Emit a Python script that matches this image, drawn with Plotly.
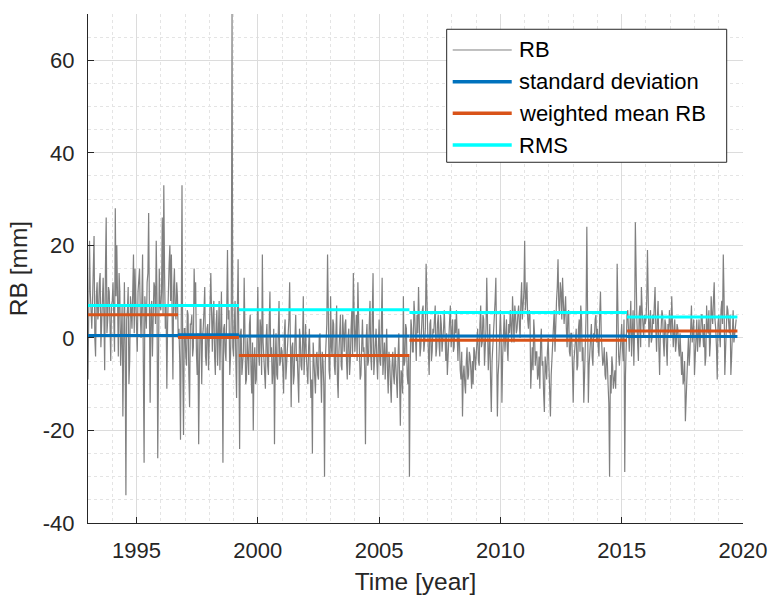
import plotly.graph_objects as go

# ---------------- data ----------------
rb_start = 1993.0          # first sample (decimal year)
rb_step = 1.0 / 16.0       # sampling step of each list (year); list b is offset by half a step
rb_a = [
    -9, 21, 3, 8, 22, -4, 12, 6, 14, 2, 13, -7, 26, 4, 10, -5,            # 1993
    8, 2, 28, 20, -4, 10, 3, -17, 12, -34, 6, -10, 9, 2, 18, 15,          # 1994
    4, 10, 15, 0, 18, -27, 6, 12, 27, -14, 8, 3, 11, 21, -26, 15,         # 1995
    6, 26, 33, 2, -11, 12, 20, 18, -9, 15, 4, 9, 2, -22, 33, -21,         # 1996
    2, -6, 5, -15, 3, -4, 15, 12, -8, -23, 4, -10, 2, 11, -6, 3,          # 1997
    4, 14, -3, 8, -8, 6, 2, -7, 10, -27, 3, -5, 19, 6, -4, 70,            # 1998
    -4, 8, -13, 17, -24, 2, -6, 13, -10, 0, -8, 5, -12, -20, -2, -9,      # 1999
    11, -6, 2, 18, -4, -11, 3, -8, 10, -2, -7, -23, 1, -9, 8, -5,         # 2000
    -3, -12, 4, -6, 2, 12, -15, -1, -8, 5, -4, -14, 0, -7, 9, -3,         # 2001
    -4, -10, 2, -13, -25, -6, -12, -3, -9, 1, -14, -5, -30, -2, 18, -7,   # 2002
    9, -4, 3, -8, 7, -13, 0, -6, 5, -3, 4, -9, 2, -5, 6, 14,              # 2003
    -3, 5, 12, -6, -8, 4, -2, -23, 3, -5, 8, -7, 14, -4, 2, -9,           # 2004
    4, -6, 13, -2, -9, 2, -12, -5, -14, -3, -10, -6, -13, 1, -19, -8,     # 2005
    9, -5, 2, -10, -30, 4, -3, 8, -2, 5, 11, -4, 3, 7, -1, 16,            # 2006
    2, -8, 4, -3, 1, 7, -2, 5, -4, 3, -1, 6, -5, -8, 2, 7,                # 2007
    1, -3, 4, 6, -5, -1, -9, -17, -6, -12, -2, -8, -4, -11, -10, -3,      # 2008
    -4, 2, -6, 7, -1, 4, -3, 13, -7, 3, -16, -2, 5, 13, -17, -5,          # 2009
    6, -14, 2, -3, 4, -5, 1, 3, 9, -1, 5, 2, 7, 0, 12, 8,                 # 2010
    21, 9, 4, 6, -11, -2, 4, -6, -3, -8, -11, 2, -5, -16, -7, -3,         # 2011
    -6, -17, -4, 2, -3, 8, 17, 5, 10, 13, 3, 9, -2, 6, -4, 1,             # 2012
    -14, -3, 2, -6, 4, 7, -5, -14, 1, 24, -14, -2, 3, -6, 0, 5,           # 2013
    2, -4, 10, -2, -5, -8, -3, -10, -30, -12, -6, -9, -11, 16, -4, -2,    # 2014
    3, -5, -29, 2, 6, -3, 8, 1, -6, 25, 4, -5, 7, 11, 2, 5,               # 2015
    4, 19, -2, 6, 0, 3, 11, -3, 8, -8, 2, 5, -4, 3, -6, 1,                # 2016
    3, 9, -2, 4, -1, 2, -4, -6, -3, -9, -18, -7, 0, -3, 7, 2,             # 2017
    -8, 2, -3, 4, 0, 5, -2, -6, 7, 1, -4, 9, 3, 12, 2, -9,                # 2018
    5, -2, 8, 18, -8, 4, 6, 1, -8, 4, -1, 3,                              # 2019
]
rb_b = [
    6, 10, 2, 14, 0, 9, 4, 12, -2, 8, 5, 15, 1, 11, 3, 7,                 # 1993
    12, -3, 9, 5, 14, -6, 7, 0, -2, 4, 11, -5, 6, 10, 1, 8,               # 1994
    -3, 13, 5, 8, -6, 9, 2, 14, 1, 6, -4, 12, 3, 9, -8, 7,                # 1995
    10, 5, 14, 7, 3, 16, 8, 2, 11, 6, 12, 0, -5, 3, -6, 2,                # 1996
    -4, 6, -8, 3, 5, -2, 7, -3, 1, -6, 4, 0, 6, -4, 2, -7,                # 1997
    7, 0, 5, -4, 3, -6, 8, -1, -5, 2, -3, 6, 4, -8, 5, -2,                # 1998
    3, -5, 6, -2, 1, -8, -3, 2, -9, -4, 3, -7, -1, -5, -10, 1,            # 1999
    -3, 4, -8, -1, -9, 0, -6, 3, -4, -10, 2, -5, -8, 1, -6, -2,           # 2000
    -7, 1, -9, -3, 4, -6, -2, -10, 0, -5, -9, 2, -6, -1, -8, 3,           # 2001
    -8, -2, -6, -9, -1, -11, -4, -8, 0, -7, -3, -10, -5, 3, -4, -9,       # 2002
    -2, 4, -6, 1, -9, -3, 5, -7, -1, 3, -5, 0, -8, 2, -4, 6,              # 2003
    1, -5, 4, -9, 2, -3, -7, 0, -6, 3, -4, 5, -8, 1, -5, -2,              # 2004
    -5, 3, -8, -1, -4, -7, -3, -10, -6, -8, -2, -11, -4, -9, -7, -12,     # 2005
    -6, 3, -8, -4, -7, 2, -3, 5, -5, 1, 4, -2, 6, -3, 2, 5,               # 2006
    -3, 3, -5, 2, 4, -4, 3, -1, 5, -3, 2, -5, 1, -4, 4, -2,               # 2007
    4, -2, 1, -4, 2, -7, -3, -8, -10, -5, -9, -3, -7, -5, -2, -7,         # 2008
    1, -5, 3, -2, 5, -6, 2, 4, -3, -9, -5, 2, 8, -3, -8, 1,               # 2009
    0, -4, 5, 1, -2, 3, 6, -1, 4, 7, 1, 5, 3, 8, 4, 10,                   # 2010
    6, 12, 2, 5, -4, -7, 1, -3, -9, -4, -1, -6, -12, -4, -9, 0,           # 2011
    -10, -8, -2, 6, 4, 11, 7, 12, 4, 8, 6, 2, 5, -3, 1, -6,               # 2012
    -5, -1, -7, 2, -3, 4, -2, -8, 5, 8, -6, 2, -4, 1, 4, -1,              # 2013
    -2, 5, 1, -6, -2, -9, -5, -14, -8, -4, -11, -7, -3, 4, -6, 3,         # 2014
    -2, 4, -8, 5, -1, 3, -4, 6, 2, 9, -1, 5, -2, 6, 0, 3,                 # 2015
    8, 6, 3, -1, 5, 7, 2, 4, -2, 1, 6, -1, 4, -2, 3, 6,                   # 2016
    0, 4, 1, -3, 3, -2, 1, -8, -10, -5, -12, -4, -6, 2, -1, 4,            # 2017
    -3, 4, 0, -2, 5, 1, 3, -4, 2, 6, -1, 5, 8, 4, -2, 3,                  # 2018
    1, 6, 3, 9, -3, 7, 2, 5, -4, 6, 1, 4,                                 # 2019
]

seg_edges = [1993.0, 1996.71, 1999.22, 2006.25, 2015.22, 2019.77]
std_vals = [0.5, 0.7, 0.4, 0.4, 0.3]
mean_vals = [5.0, 0.1, -3.8, -0.5, 1.5]
rms_vals = [7.0, 7.0, 6.1, 5.5, 4.5]

legend_labels = ["RB", "standard deviation", "weighted mean RB", "RMS"]
x_ticks = [1995, 2000, 2005, 2010, 2015, 2020]
y_ticks = [-40, -20, 0, 20, 40, 60]

# ---------------- styling ----------------
FONT = "Liberation Sans, Arial, Helvetica, sans-serif"
TXT = "#262626"
C_RB = "#808080"
C_STD = "#0072BD"
C_MEAN = "#D95319"
C_RMS = "#00FFFF"

# interleave the two sample lists into one time-ordered series
rb_t, rb_v = [], []
for i in range(len(rb_a)):
    rb_t.append(rb_start + i * rb_step)
    rb_v.append(rb_a[i])
    if i < len(rb_b):
        rb_t.append(rb_start + (i + 0.5) * rb_step)
        rb_v.append(rb_b[i])


def seg_xy(vals):
    xs, ys = [], []
    for i, v in enumerate(vals):
        xs += [seg_edges[i], seg_edges[i + 1], None]
        ys += [v, v, None]
    return xs, ys


fig = go.Figure()
fig.add_trace(go.Scatter(x=rb_t, y=rb_v, mode="lines", name=legend_labels[0],
                         line=dict(color=C_RB, width=1.2), showlegend=False))
for vals, col, nm in [(std_vals, C_STD, legend_labels[1]),
                      (mean_vals, C_MEAN, legend_labels[2]),
                      (rms_vals, C_RMS, legend_labels[3])]:
    xs, ys = seg_xy(vals)
    fig.add_trace(go.Scatter(x=xs, y=ys, mode="lines", name=nm,
                             line=dict(color=col, width=3), showlegend=False))

# ---------------- manual MATLAB-like legend ----------------
L_x0, L_x1, L_y0, L_y1 = 0.5476, 0.9751, 0.7087, 0.970
entry_y = [0.9293, 0.8670, 0.8049, 0.7426]
shapes = [dict(type="rect", xref="paper", yref="paper", x0=L_x0, x1=L_x1, y0=L_y0, y1=L_y1,
               line=dict(color=TXT, width=1), fillcolor="white", layer="above")]
annotations = []
cols = [C_RB, C_STD, C_MEAN, C_RMS]
widths = [1, 3.5, 3.5, 3.5]
for lab, yy, c, w in zip(legend_labels, entry_y, cols, widths):
    shapes.append(dict(type="line", xref="paper", yref="paper", x0=0.5568, x1=0.6469,
                       y0=yy, y1=yy, line=dict(color=c, width=w), layer="above"))
    annotations.append(dict(xref="paper", yref="paper", x=0.6554, y=yy, text=lab,
                            showarrow=False, xanchor="left", yanchor="middle",
                            font=dict(family=FONT, size=22, color="#000000")))

fig.update_layout(
    width=772, height=598,
    margin=dict(l=88, r=29, t=14, b=75, autoexpand=False),
    paper_bgcolor="white", plot_bgcolor="white",
    font=dict(family=FONT, size=22, color=TXT),
    shapes=shapes, annotations=annotations,
    showlegend=False,
)
axis_common = dict(
    showline=True, linecolor=TXT, linewidth=1, mirror=False,
    ticks="inside", ticklen=6, tickcolor=TXT, tickwidth=1,
    showgrid=True, gridcolor="#dcdcdc", gridwidth=1,
    zeroline=False, tickfont=dict(family=FONT, size=22, color=TXT),
    automargin=False,
)
fig.update_xaxes(range=[1993.0, 2020], tickvals=x_ticks, ticktext=[str(v) for v in x_ticks],
                 minor=dict(dtick=1, tick0=1993, showgrid=True, gridcolor="#e4e4e4", griddash="dot", ticks=""),
                 title=dict(text="Time [year]", font=dict(family=FONT, size=24.5, color=TXT), standoff=10),
                 ticklabelstandoff=8, **axis_common)
fig.update_yaxes(range=[-40, 70], tickvals=y_ticks, ticktext=[str(v) for v in y_ticks],
                 minor=dict(dtick=5, tick0=0, showgrid=True, gridcolor="#e4e4e4", griddash="dot", ticks=""),
                 title=dict(text="RB [mm]", font=dict(family=FONT, size=24.5, color=TXT), standoff=8),
                 ticklabelstandoff=8, **axis_common)

fig.write_html("out.html")
